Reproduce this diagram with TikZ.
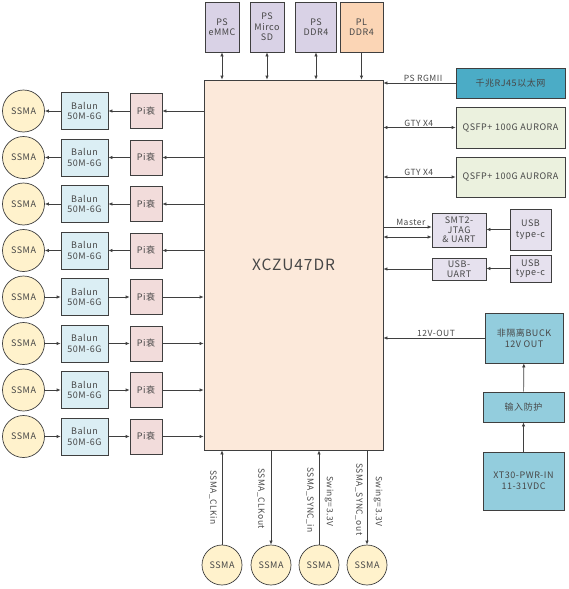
\documentclass[tikz,border=0pt]{standalone}
\usepackage{fontspec}
\setmainfont{Noto Sans CJK SC}[LetterSpace=6]
\usepackage{tikz}
\usetikzlibrary{positioning,arrows.meta}
\definecolor{txt}{HTML}{474747}
\definecolor{edge}{HTML}{3F3F3F}
\definecolor{fpgafill}{HTML}{FCE9DA}
\definecolor{psfill}{HTML}{D9D2E6}
\definecolor{plfill}{HTML}{FBD5B5}
\definecolor{usbfill}{HTML}{E6E1EE}
\definecolor{ssmafill}{HTML}{FFF2CC}
\definecolor{balfill}{HTML}{DBEEF4}
\definecolor{pifill}{HTML}{F2DCDB}
\definecolor{qsfpfill}{HTML}{EBF1DE}
\definecolor{ethfill}{HTML}{4BACC6}
\definecolor{pwrfill}{HTML}{93CDDD}

\begin{document}
\begin{tikzpicture}
    [x=1pt,y=-1pt,font=\fontsize{9}{10.5}\selectfont,
     every node/.style={text=txt},
     box/.style={draw=edge,line width=0.7pt,inner sep=1pt,align=center},
     ssma/.style={circle,draw=edge,line width=0.7pt,fill=ssmafill,minimum size=42pt,inner sep=0pt},
     lbl/.style={font=\fontsize{8.5}{9}\selectfont,inner sep=1pt},
     sig/.style={draw=edge,line width=0.7pt,-{Latex[length=4pt,width=3.5pt]}},
     bi/.style={draw=edge,line width=0.7pt,{Latex[length=4pt,width=3.5pt]}-{Latex[length=4pt,width=3.5pt]}}]
    \useasboundingbox (0,0) rectangle (568,589);
    % FPGA
    \node[box,fill=fpgafill,minimum width=179pt,minimum height=370pt,font=\fontsize{15.5}{18}\selectfont] (fpga) at (293.5,265) {XCZU47DR};
    % memories on top
    \node[box,fill=psfill,minimum width=34pt,minimum height=50pt,inner sep=0pt] (ps1) at (222,27) {PS\\eMMC};
    \node[box,fill=psfill,minimum width=34pt,minimum height=50pt,inner sep=0pt] (ps2) at (267,27) {PS\\Mirco\\SD};
    \node[box,fill=psfill,minimum width=41pt,minimum height=50pt] (ps3) at (316,27) {PS\\DDR4};
    \node[box,fill=plfill,minimum width=43pt,minimum height=50pt] (ps4) at (361.5,27) {PL\\DDR4};
    \draw[bi] (ps1) -- (ps1 |- fpga.north);
    \draw[bi] (ps2) -- (ps2 |- fpga.north);
    \draw[bi] (ps3) -- (ps3 |- fpga.north);
    \draw[sig] (ps4) -- (ps4 |- fpga.north);
    % right side
    \node[box,fill=ethfill,minimum width=109pt,minimum height=30pt] (rj45) at (510.5,83) {千兆RJ45以太网};
    \node[box,fill=qsfpfill,minimum width=109pt,minimum height=41pt,inner sep=0pt] (qq1) at (510.5,127.5) {QSFP+ 100G AURORA};
    \node[box,fill=qsfpfill,minimum width=109pt,minimum height=40pt,inner sep=0pt] (qq2) at (510.5,177) {QSFP+ 100G AURORA};
    \node[box,fill=usbfill,minimum width=54pt,minimum height=34pt,inner sep=0pt,font=\fontsize{9}{9.5}\selectfont] (smt) at (459,230) {SMT2-\\JTAG\\\& UART};
    \node[box,fill=usbfill,minimum width=41pt,minimum height=41pt] (usb1) at (530.5,229.5) {USB\\type-c};
    \node[box,fill=usbfill,minimum width=54pt,minimum height=22pt,inner sep=0pt,font=\fontsize{9}{9.5}\selectfont] (uart) at (459,269) {USB-\\UART};
    \node[box,fill=usbfill,minimum width=41pt,minimum height=27pt,inner sep=0pt,font=\fontsize{9}{9.5}\selectfont] (usb2) at (530.5,268.5) {USB\\type-c};
    \node[box,fill=pwrfill,minimum width=78pt,minimum height=50pt] (buck) at (524,338) {非隔离BUCK\\12V OUT};
    \node[box,fill=pwrfill,minimum width=81pt,minimum height=30pt] (prot) at (523.5,407) {输入防护};
    \node[box,fill=pwrfill,minimum width=81pt,minimum height=58pt] (xt30) at (523.5,481) {XT30-PWR-IN\\11-31VDC};
    \draw[sig] (rj45) -- (rj45 -| fpga.east) node[lbl,above,pos=0.45] {PS RGMII};
    \draw[bi] (fpga.east |- qq1) -- (qq1) node[lbl,above,pos=0.49] {GTY X4};
    \draw[bi] (fpga.east |- qq2) -- (qq2) node[lbl,above,pos=0.49] {GTY X4};
    \draw[sig] ([yshift=3pt]smt.west -| fpga.east) -- ([yshift=3pt]smt.west) node[lbl,above,pos=0.57] {Master};
    \draw[bi] ([yshift=-7pt]smt.west -| fpga.east) -- ([yshift=-7pt]smt.west);
    \draw[sig] (usb1.west) -- (usb1.west -| smt.east);
    \draw[sig] (usb2.west) -- (usb2.west -| uart.east);
    \draw[sig] (uart.west) -- (uart.west -| fpga.east);
    \draw[sig] (buck.west) -- (buck.west -| fpga.east) node[lbl,above,pos=0.48] {12V-OUT};
    \draw[sig] (prot) -- (buck);
    \draw[sig] (xt30) -- (prot);
    % left side, outputs
    \foreach \i/\yy in {1/111,2/157.5,3/204,4/250.5}{
        \node[ssma] (ss\i) at (23.5,\yy) {SSMA};
        \node[box,fill=balfill,minimum width=47pt,minimum height=37pt,inner sep=0pt] (bal\i) at (84.5,\yy) {Balun\\50M-6G};
        \node[box,fill=pifill,minimum width=32pt,minimum height=35pt,inner sep=0pt] (pi\i) at (146,\yy) {Pi衰};
        \draw[sig] (fpga.west |- pi\i.east) -- (pi\i.east);
        \draw[sig] (pi\i) -- (bal\i);
        \draw[sig] (bal\i) -- (ss\i);
    }
    % left side, inputs
    \foreach \i/\yy in {5/297,6/343.5,7/390,8/436.5}{
        \node[ssma] (ss\i) at (23.5,\yy) {SSMA};
        \node[box,fill=balfill,minimum width=47pt,minimum height=37pt,inner sep=0pt] (bal\i) at (84.5,\yy) {Balun\\50M-6G};
        \node[box,fill=pifill,minimum width=32pt,minimum height=35pt,inner sep=0pt] (pi\i) at (146,\yy) {Pi衰};
        \draw[sig] (ss\i) -- (bal\i);
        \draw[sig] (bal\i) -- (pi\i);
        \draw[sig] (pi\i.east) -- (pi\i.east -| fpga.west);
    }
    % bottom clocks
    \node[ssma,minimum size=40pt] (bs1) at (222,565) {SSMA};
    \node[ssma,minimum size=40pt] (bs2) at (271,565) {SSMA};
    \node[ssma,minimum size=40pt] (bs3) at (319,565) {SSMA};
    \node[ssma,minimum size=40pt] (bs4) at (367,565) {SSMA};
    \draw[sig] (bs1) -- (bs1 |- fpga.south);
    \draw[sig] (bs2 |- fpga.south) -- (bs2);
    \draw[sig] (bs3) -- (bs3 |- fpga.south);
    \draw[sig] (bs4 |- fpga.south) -- (bs4);
    \node[lbl,rotate=-90,anchor=west] (tclkin) at (213,469) {SSMA\_CLKin};
    \node[lbl,rotate=-90,anchor=west] (tclkout) at (261,467) {SSMA\_CLKout};
    \node[lbl,rotate=-90,anchor=west] (tsyncin) at (310,466) {SSMA\_SYNC\_in};
    \node[lbl,rotate=-90,anchor=west] (tsw1) at (329,475) {Swing=3.3V};
    \node[lbl,rotate=-90,anchor=west] (tsyncout) at (359,462) {SSMA\_SYNC\_out};
    \node[lbl,rotate=-90,anchor=west] (tsw2) at (378,475) {Swing=3.3V};
\end{tikzpicture}
\end{document}
